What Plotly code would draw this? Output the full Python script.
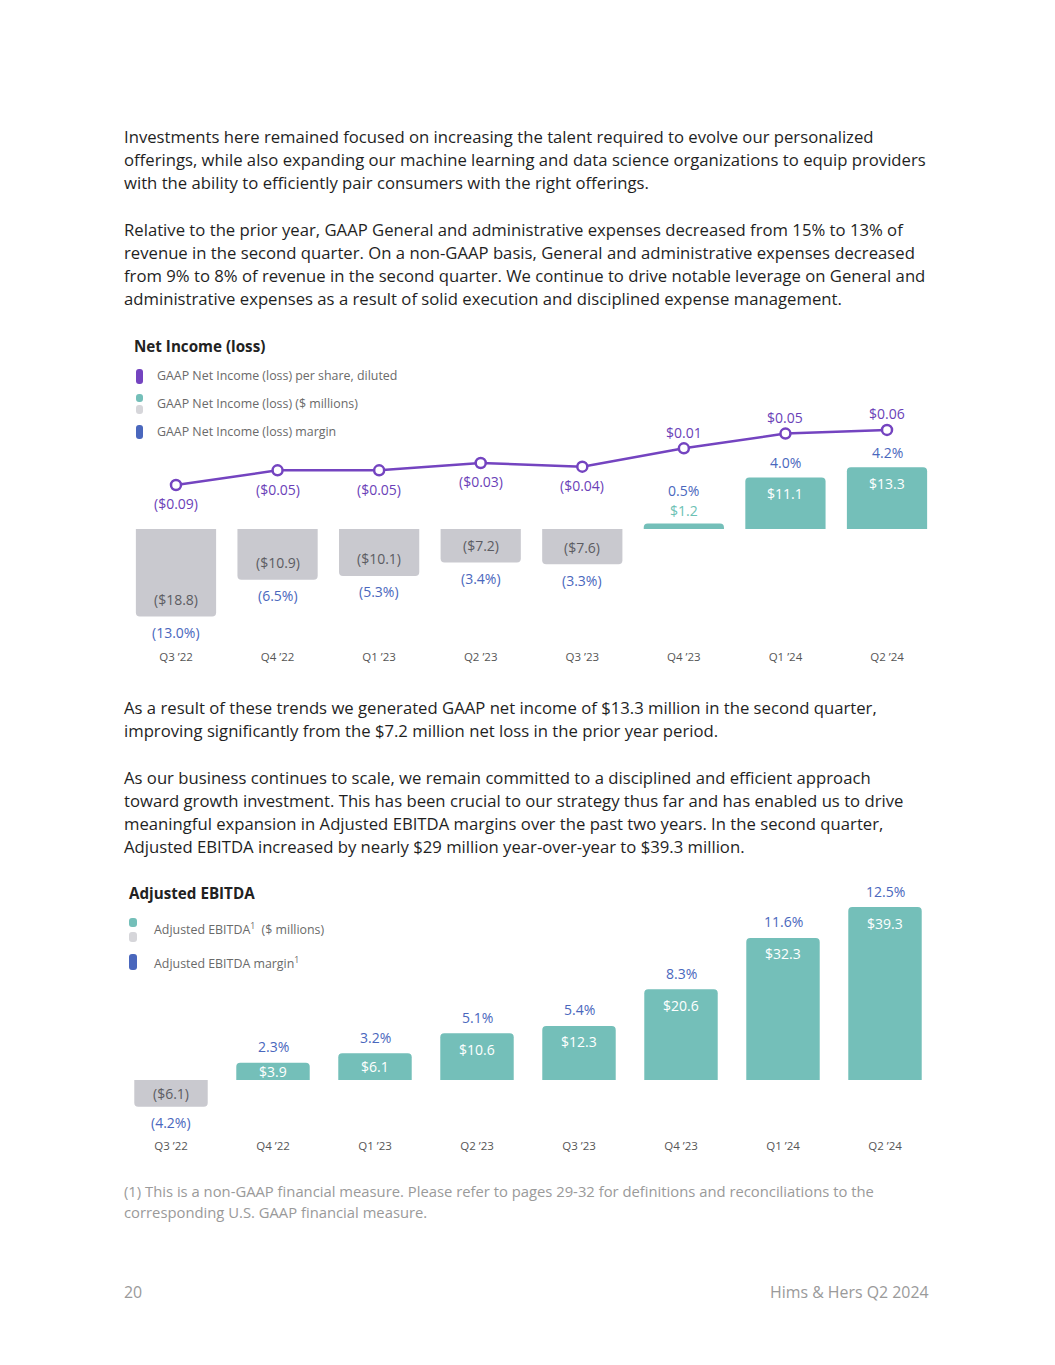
import plotly.graph_objects as go

W, H = 1055, 1365
OFF = 8  # default body margin of the html page
FW, FH = W - 2 * OFF, H - 2 * OFF
FONT = "Open Sans"

# ---------------- data ----------------
quarters = ["Q3 ’22", "Q4 ’22", "Q1 ’23", "Q2 ’23", "Q3 ’23", "Q4 ’23", "Q1 ’24", "Q2 ’24"]
net_income = [-18.8, -10.9, -10.1, -7.2, -7.6, 1.2, 11.1, 13.3]
net_income_labels = ["($18.8)", "($10.9)", "($10.1)", "($7.2)", "($7.6)", "$1.2", "$11.1", "$13.3"]
net_margin_labels = ["(13.0%)", "(6.5%)", "(5.3%)", "(3.4%)", "(3.3%)", "0.5%", "4.0%", "4.2%"]
eps = [-0.09, -0.05, -0.05, -0.03, -0.04, 0.01, 0.05, 0.06]
eps_labels = ["($0.09)", "($0.05)", "($0.05)", "($0.03)", "($0.04)", "$0.01", "$0.05", "$0.06"]

ebitda = [-6.1, 3.9, 6.1, 10.6, 12.3, 20.6, 32.3, 39.3]
ebitda_labels = ["($6.1)", "$3.9", "$6.1", "$10.6", "$12.3", "$20.6", "$32.3", "$39.3"]
ebitda_margin_labels = ["(4.2%)", "2.3%", "3.2%", "5.1%", "5.4%", "8.3%", "11.6%", "12.5%"]

para1 = ["Investments here remained focused on increasing the talent required to evolve our personalized",
         "offerings, while also expanding our machine learning and data science organizations to equip providers",
         "with the ability to efficiently pair consumers with the right offerings."]
para2 = ["Relative to the prior year, GAAP General and administrative expenses decreased from 15% to 13% of",
         "revenue in the second quarter. On a non-GAAP basis, General and administrative expenses decreased",
         "from 9% to 8% of revenue in the second quarter. We continue to drive notable leverage on General and",
         "administrative expenses as a result of solid execution and disciplined expense management."]
para3 = ["As a result of these trends we generated GAAP net income of $13.3 million in the second quarter,",
         "improving significantly from the $7.2 million net loss in the prior year period."]
para4 = ["As our business continues to scale, we remain committed to a disciplined and efficient approach",
         "toward growth investment. This has been crucial to our strategy thus far and has enabled us to drive",
         "meaningful expansion in Adjusted EBITDA margins over the past two years. In the second quarter,",
         "Adjusted EBITDA increased by nearly $29 million year-over-year to $39.3 million."]
footnote = ["(1) This is a non-GAAP financial measure. Please refer to pages 29-32 for definitions and reconciliations to the",
            "corresponding U.S. GAAP financial measure."]

# ---------------- styles ----------------
PURPLE = "#7444c0"
PURPLE_TXT = "#6b3fb8"
BLUE = "#4a67bd"
TEAL = "#74bfb9"
TEAL_TXT = "#6cc1b4"
GRAY = "#c9c9cf"
GRAY_TXT = "#5c5c62"
TEXT = "#1f1f1f"
MUTED = "#9a9a9a"


def px(x):
    return (x - OFF) / FW


def py(y):
    return 1 - (y - OFF) / FH


fig = go.Figure()

# ---- chart 1 geometry (page pixels) ----
c1_top, c1_bot, c1_zero, c1_scale = 395, 648, 529, 4.65  # px per $M
e_top_val, e_ref_px, e_scale = -0.09, 485, 367.0  # px per $ of EPS
y1_range = [-(c1_bot - c1_zero) / c1_scale, (c1_zero - c1_top) / c1_scale]
y2_range = [e_top_val - (c1_bot - e_ref_px) / e_scale, e_top_val + (e_ref_px - c1_top) / e_scale]

# ---- chart 2 geometry ----
c2_top, c2_bot, c2_zero, c2_scale = 880, 1137, 1080, 4.4
y3_range = [-(c2_bot - c2_zero) / c2_scale, (c2_zero - c2_top) / c2_scale]

# ---------------- traces ----------------
fig.add_trace(go.Bar(
    x=quarters, y=net_income, width=0.79,
    marker=dict(color=[GRAY if v < 0 else TEAL for v in net_income], line=dict(width=0)),
    xaxis="x", yaxis="y", hoverinfo="skip"))
fig.add_trace(go.Scatter(
    x=quarters, y=eps, mode="lines+markers",
    line=dict(color=PURPLE, width=2.5),
    marker=dict(symbol="circle", size=10, color="white", line=dict(color=PURPLE, width=2.5)),
    xaxis="x", yaxis="y2", hoverinfo="skip"))
fig.add_trace(go.Bar(
    x=quarters, y=ebitda, width=0.72,
    marker=dict(color=[GRAY if v < 0 else TEAL for v in ebitda], line=dict(width=0)),
    xaxis="x2", yaxis="y3", hoverinfo="skip"))

ann = []


def label(text, x, y, xref, yref, size, color, yshift=0):
    ann.append(dict(text=text, x=x, y=y, xref=xref, yref=yref, showarrow=False,
                    xanchor="center", yanchor="middle", yshift=yshift,
                    font=dict(family=FONT, size=size, color=color)))


# chart 1 labels
for q, v, lab, m in zip(quarters, net_income, net_income_labels, net_margin_labels):
    hpx = abs(v) * c1_scale
    if v < 0:
        if hpx / 2 < 17:
            label(lab, q, v / 2, "x", "y", 14, GRAY_TXT)
        else:
            label(lab, q, v, "x", "y", 14, GRAY_TXT, yshift=17)
        label(m, q, v, "x", "y", 14, BLUE, yshift=-16)
    elif hpx < 20:
        label(lab, q, v, "x", "y", 14, TEAL_TXT, yshift=13)
        label(m, q, v, "x", "y", 14, BLUE, yshift=33)
    else:
        label(lab, q, v, "x", "y", 14, "white", yshift=-16)
        label(m, q, v, "x", "y", 14, BLUE, yshift=15)

for q, v, lab in zip(quarters, eps, eps_labels):
    label(lab, q, v, "x", "y2", 14, PURPLE_TXT, yshift=(-19 if v < 0 else 16))

# chart 2 labels
for q, v, lab, m in zip(quarters, ebitda, ebitda_labels, ebitda_margin_labels):
    hpx = abs(v) * c2_scale
    if v < 0:
        label(lab, q, v / 2, "x2", "y3", 14, GRAY_TXT)
        label(m, q, v, "x2", "y3", 14, BLUE, yshift=-16)
    else:
        if hpx / 2 < 16:
            label(lab, q, v / 2, "x2", "y3", 14, "white")
        else:
            label(lab, q, v, "x2", "y3", 14, "white", yshift=-16)
        label(m, q, v, "x2", "y3", 14, BLUE, yshift=16)


# ---------------- page text ----------------
def text_line(t, x, y, size, color, anchor="left"):
    xx = x - 2 if anchor == "left" else x + 2
    ann.append(dict(text=t, x=px(xx), y=py(y), xref="paper", yref="paper", showarrow=False,
                    xanchor=anchor, yanchor="middle",
                    font=dict(family=FONT, size=size, color=color)))


for lines, start in [(para1, 136), (para2, 229), (para3, 707), (para4, 777)]:
    for i, t in enumerate(lines):
        text_line(t, 124, start + i * 23.2, 16.7, TEXT)
for i, t in enumerate(footnote):
    text_line(t, 124, 1191 + i * 21, 14.8, MUTED)
text_line("20", 124, 1292, 15.9, MUTED)
text_line("Hims &amp; Hers Q2 2024", 929, 1292, 15.9, MUTED, anchor="right")

# chart titles and legends
text_line("<b>Net Income (loss)</b>", 134, 346, 15.2, "#222")
text_line("GAAP Net Income (loss) per share, diluted", 157, 376, 12.4, "#6a6a6a")
text_line("GAAP Net Income (loss) ($ millions)", 157, 404, 12.4, "#6a6a6a")
text_line("GAAP Net Income (loss) margin", 157, 432, 12.4, "#6a6a6a")

text_line("<b>Adjusted EBITDA</b>", 129, 893, 15.2, "#222")
text_line("Adjusted EBITDA<sup>1</sup>  ($ millions)", 154, 929, 12.4, "#6a6a6a")
text_line("Adjusted EBITDA margin<sup>1</sup>", 154, 963, 12.4, "#6a6a6a")

shapes = []


def pill(x0, y0, x1, y1, color):
    r = min((x1 - x0) / 2, (y1 - y0) / 2, 3)
    X0, X1 = px(x0), px(x1)
    Y0, Y1 = py(y0), py(y1)
    rx, ry = r / FW, r / FH
    path = (f"M {X0 + rx},{Y0} L {X1 - rx},{Y0} Q {X1},{Y0} {X1},{Y0 - ry} "
            f"L {X1},{Y1 + ry} Q {X1},{Y1} {X1 - rx},{Y1} L {X0 + rx},{Y1} "
            f"Q {X0},{Y1} {X0},{Y1 + ry} L {X0},{Y0 - ry} Q {X0},{Y0} {X0 + rx},{Y0} Z")
    shapes.append(dict(type="path", path=path, xref="paper", yref="paper",
                       fillcolor=color, line=dict(width=0)))


pill(136, 369, 143, 384, PURPLE)
pill(136, 394, 143, 402, TEAL)
pill(136, 405, 143, 414, "#d6d6da")
pill(136, 425, 143, 439, BLUE)

pill(129, 918, 137, 927, TEAL)
pill(129, 932, 137, 942, "#d6d6da")
pill(129, 954, 137, 970, BLUE)

axis_common = dict(type="category", showgrid=False, zeroline=False, showline=False,
                   ticks="", tickfont=dict(family=FONT, size=11.5, color="#555"), fixedrange=True)
hidden = dict(visible=False, showgrid=False, zeroline=False, fixedrange=True)

fig.update_layout(
    width=FW, height=FH,
    margin=dict(l=0, r=0, t=0, b=0),
    paper_bgcolor="white", plot_bgcolor="white",
    showlegend=False,
    barcornerradius=4,
    font=dict(family=FONT),
    xaxis=dict(domain=[px(125.2), px(937.8)], anchor="y", **axis_common),
    yaxis=dict(domain=[py(c1_bot), py(c1_top)], range=y1_range, **hidden),
    yaxis2=dict(overlaying="y", range=y2_range, **hidden),
    xaxis2=dict(domain=[px(120), px(936)], anchor="y3", **axis_common),
    yaxis3=dict(domain=[py(c2_bot), py(c2_top)], range=y3_range, **hidden),
    annotations=ann,
    shapes=shapes,
)

fig.write_html("out.html")
